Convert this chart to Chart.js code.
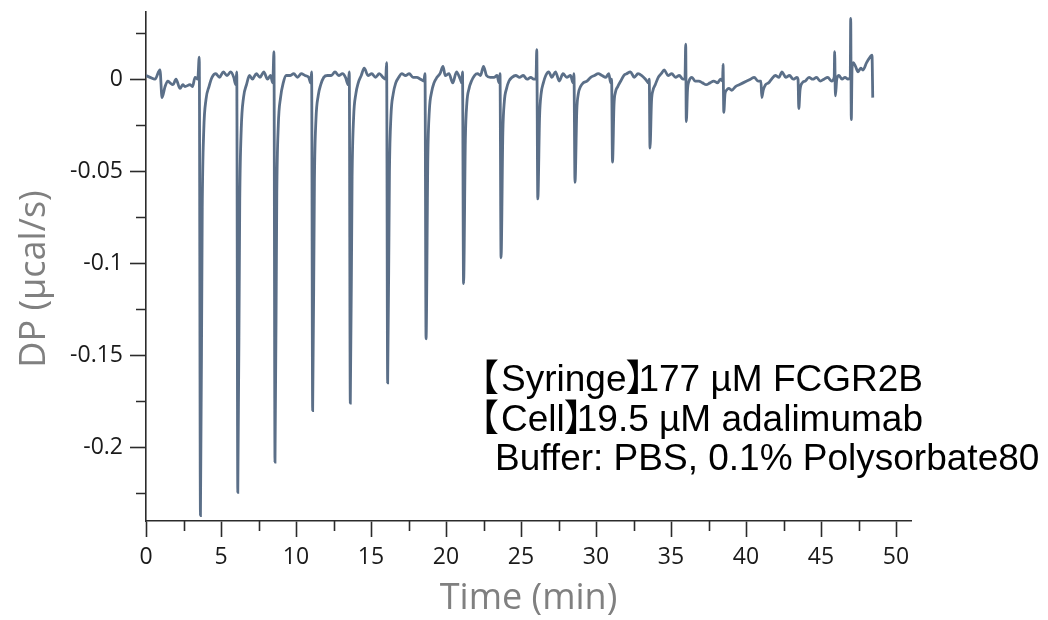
<!DOCTYPE html>
<html>
<head>
<meta charset="utf-8">
<script src="https://cdn.jsdelivr.net/npm/chart.js@4"></script>
<style>
  html, body { margin: 0; padding: 0; background: #fff; }
  #wrap { width: 1048px; height: 620px; }
</style>
</head>
<body>
<div id="wrap"><canvas id="itc"></canvas></div>
<script>
// ITC thermogram, [time (min), DP (µcal/s)]
const preRun = [
    [0.00, 0.002], [0.27, 0.001], [0.60, 0.000], [0.93, 0.005], [1.07, -0.010], [1.27, -0.004],
    [1.45, -0.001], [1.60, -0.002], [1.80, -0.003], [2.00, 0.000], [2.27, -0.005], [2.45, -0.003],
    [2.60, -0.004], [2.93, -0.003], [3.10, -0.004], [3.27, 0.001], [3.45, 0.000]
];
const injections = [
    [[3.55, 0.012], [3.63, -0.237], [3.75, -0.070], [3.85, -0.028], [4.00, -0.011], [4.20, -0.004], [4.40, 0.001], [4.65, 0.003], [4.90, 0.001], [5.15, 0.004], [5.40, 0.002], [5.65, 0.004], [5.85, 0.001], [5.98, -0.003]],
    [[6.05, 0.004], [6.12, -0.2245], [6.25, -0.066], [6.35, -0.027], [6.50, -0.010], [6.70, -0.003], [6.90, 0.002], [7.10, 0.000], [7.35, 0.003], [7.60, 0.001], [7.85, 0.004], [8.10, 0.000], [8.30, 0.002], [8.45, -0.002]],
    [[8.53, 0.015], [8.60, -0.208], [8.72, -0.062], [8.82, -0.025], [8.97, -0.010], [9.15, -0.002], [9.35, 0.002], [9.60, 0.002], [9.85, 0.003], [10.10, 0.001], [10.35, 0.003], [10.60, 0.002], [10.85, 0.001], [10.98, -0.002]],
    [[11.04, 0.004], [11.11, -0.180], [11.23, -0.054], [11.33, -0.022], [11.48, -0.009], [11.65, -0.003], [11.85, 0.001], [12.10, 0.002], [12.35, 0.002], [12.60, 0.004], [12.85, 0.002], [13.10, 0.003], [13.30, 0.001], [13.48, -0.003]],
    [[13.55, 0.004], [13.62, -0.176], [13.74, -0.053], [13.84, -0.021], [13.99, -0.008], [14.15, -0.002], [14.35, 0.002], [14.55, 0.006], [14.80, 0.002], [15.05, 0.003], [15.30, 0.001], [15.55, 0.003], [15.80, 0.001], [15.98, 0.000]],
    [[16.04, 0.009], [16.11, -0.165], [16.23, -0.050], [16.33, -0.020], [16.48, -0.008], [16.65, -0.002], [16.85, 0.001], [17.05, 0.003], [17.30, 0.002], [17.55, 0.003], [17.80, 0.001], [18.05, 0.001], [18.30, 0.000], [18.52, -0.001]],
    [[18.60, 0.003], [18.67, -0.141], [18.79, -0.042], [18.89, -0.017], [19.04, -0.007], [19.20, -0.002], [19.40, 0.001], [19.60, 0.003], [19.80, 0.007], [19.95, 0.002], [20.20, 0.003], [20.45, -0.002], [20.70, 0.004], [20.95, 0.000], [21.05, -0.002]],
    [[21.10, 0.004], [21.17, -0.111], [21.29, -0.033], [21.39, -0.013], [21.54, -0.005], [21.70, -0.001], [21.90, 0.002], [22.10, 0.003], [22.30, 0.002], [22.50, 0.007], [22.70, 0.002], [22.95, 0.001], [23.20, 0.001], [23.40, 0.002], [23.54, -0.002]],
    [[23.60, 0.003], [23.67, -0.097], [23.79, -0.029], [23.89, -0.012], [24.04, -0.005], [24.20, -0.001], [24.40, 0.001], [24.65, 0.002], [24.90, 0.001], [25.15, 0.002], [25.40, 0.000], [25.65, 0.001], [25.85, 0.000], [26.00, 0.000]],
    [[26.05, 0.016], [26.12, -0.065], [26.24, -0.020], [26.34, -0.008], [26.49, -0.002], [26.65, 0.002], [26.85, 0.004], [27.05, 0.001], [27.30, 0.004], [27.55, -0.001], [27.80, 0.003], [28.05, 0.001], [28.30, 0.002], [28.47, -0.002]],
    [[28.53, 0.003], [28.60, -0.056], [28.72, -0.017], [28.82, -0.008], [28.97, -0.004], [29.15, -0.002], [29.40, -0.001], [29.65, 0.001], [29.90, 0.002], [30.15, 0.003], [30.40, 0.002], [30.65, 0.001], [30.85, 0.003], [30.98, -0.002]],
    [[31.04, 0.000], [31.10, -0.045], [31.20, -0.014], [31.30, -0.007], [31.45, -0.004], [31.65, -0.001], [31.85, 0.002], [32.05, 0.003], [32.30, 0.004], [32.55, 0.001], [32.80, 0.003], [33.05, 0.002], [33.30, 0.000], [33.50, -0.002]],
    [[33.55, 0.000], [33.60, -0.0375], [33.70, -0.012], [33.80, -0.006], [33.95, -0.003], [34.15, 0.001], [34.35, 0.003], [34.55, 0.005], [34.80, 0.002], [35.05, 0.003], [35.30, 0.001], [35.55, 0.002], [35.80, 0.000], [35.93, 0.000]],
    [[35.98, 0.019], [36.02, -0.023], [36.10, -0.006], [36.20, -0.001], [36.40, 0.001], [36.60, -0.001], [36.85, -0.001], [37.10, -0.002], [37.35, -0.003], [37.60, -0.002], [37.85, -0.001], [38.10, -0.002], [38.30, 0.000], [38.44, -0.001]],
    [[38.47, 0.008], [38.52, -0.018], [38.60, -0.008], [38.70, -0.006], [38.85, -0.005], [39.05, -0.006], [39.30, -0.004], [39.55, -0.003], [39.80, -0.002], [40.05, -0.001], [40.30, 0.000], [40.55, 0.001], [40.80, -0.001], [40.96, -0.001]],
    [[41.00, -0.001], [41.05, -0.010], [41.15, -0.006], [41.30, -0.003], [41.50, -0.002], [41.70, 0.000], [41.95, 0.002], [42.20, 0.001], [42.40, 0.004], [42.65, 0.001], [42.90, 0.002], [43.15, 0.000], [43.40, 0.001]],
    [[43.47, 0.000], [43.52, -0.016], [43.60, -0.006], [43.75, -0.002], [43.95, -0.001], [44.20, 0.001], [44.45, 0.000], [44.70, 0.001], [44.95, -0.001], [45.20, 0.000], [45.45, 0.001], [45.70, -0.001], [45.88, 0.001]],
    [[45.91, 0.015], [45.96, -0.009], [46.05, 0.000], [46.20, 0.002], [46.40, 0.000], [46.60, 0.001], [46.80, 0.000], [46.95, 0.001]],
    [[46.98, 0.033], [47.02, -0.022], [47.07, 0.006], [47.15, 0.009], [47.30, 0.007], [47.47, 0.004], [47.65, 0.006], [47.80, 0.005], [48.04, 0.009], [48.27, 0.012], [48.40, 0.013], [48.45, -0.010]]
];

const yLabelValues = [0, -0.05, -0.1, -0.15, -0.2];
const xLabelValues = [0, 5, 10, 15, 20, 25, 30, 35, 40, 45, 50];
const yTitle = 'DP (µcal/s)';
const xTitle = 'Time (min)';
const annotationLines = [
    '【Syringe】177 µM FCGR2B',
    '【Cell】19.5 µM adalimumab',
    ' Buffer: PBS, 0.1% Polysorbate80'
];

const AXIS_COLOR = '#2b2b2b';
const MINOR_LEN = 10;

const points = preRun.concat(...injections).map(p => ({x: p[0], y: p[1]}));

const isLabel = (list, v) => list.some(l => Math.abs(l - v) < 1e-6);

// draws a line of text, packing the CJK lenticular brackets tight
function drawPacked(ctx, text, x, y) {
    let cx = x;
    text.split(/(【|】)/).filter(s => s.length).forEach(part => {
        const m = ctx.measureText(part);
        if (part === '【' || part === '】') {
            const gapAfter = part === '【' ? 3 : 0;
            ctx.fillText(part, cx + m.actualBoundingBoxLeft, y);
            cx += m.actualBoundingBoxLeft + m.actualBoundingBoxRight + gapAfter;
        } else {
            ctx.fillText(part, cx, y);
            cx += m.width;
        }
    });
}

// minor tick marks (shorter than the labelled ones)
const minorTicks = {
    id: 'minorTicks',
    afterDraw(chart) {
        const ctx = chart.ctx;
        const xs = chart.scales.x, ys = chart.scales.y;
        ctx.save();
        ctx.strokeStyle = AXIS_COLOR;
        ctx.lineWidth = 1.6;
        ctx.beginPath();
        xs.ticks.forEach(t => {
            if (isLabel(xLabelValues, t.value)) return;
            const px = Math.round(xs.getPixelForValue(t.value)) + 0.5;
            ctx.moveTo(px, xs.top);
            ctx.lineTo(px, xs.top + MINOR_LEN);
        });
        ys.ticks.forEach(t => {
            if (isLabel(yLabelValues, t.value)) return;
            const py = Math.round(ys.getPixelForValue(t.value)) + 0.5;
            ctx.moveTo(ys.right, py);
            ctx.lineTo(ys.right - MINOR_LEN, py);
        });
        ctx.stroke();
        ctx.restore();
    }
};

// y title and the text box over the plot area
const annotation = {
    id: 'annotation',
    afterDraw(chart) {
        const ctx = chart.ctx;
        ctx.save();
        ctx.fillStyle = '#808080';
        ctx.font = '36px "Open Sans", "Noto Sans", sans-serif';
        ctx.textAlign = 'center';
        ctx.textBaseline = 'middle';
        ctx.translate(35, 279);
        ctx.rotate(-Math.PI / 2);
        ctx.fillText(yTitle, 0, 0);
        ctx.restore();

        ctx.save();
        ctx.fillStyle = '#000';
        ctx.font = '37px "Liberation Sans", Arial, "Noto Sans CJK JP", sans-serif';
        ctx.textBaseline = 'alphabetic';
        drawPacked(ctx, annotationLines[0], 486, 391);
        drawPacked(ctx, annotationLines[1], 486, 431);
        const lead = ctx.measureText(' ').width;
        ctx.fillText(annotationLines[2], 495 - lead, 470);
        ctx.restore();
    }
};

Chart.defaults.font.family = '"Open Sans", "Noto Sans", sans-serif';
Chart.defaults.color = '#1a1a1a';

new Chart(document.getElementById('itc'), {
    type: 'line',
    data: {
        datasets: [{
            data: points,
            borderColor: '#5b6f88',
            borderWidth: 2.8,
            pointRadius: 0,
            cubicInterpolationMode: 'monotone',
            fill: false
        }]
    },
    options: {
        responsive: true,
        maintainAspectRatio: false,
        animation: false,
        layout: {padding: {top: 12, right: 137, left: 0, bottom: 0}},
        plugins: {legend: {display: false}, tooltip: {enabled: false}},
        scales: {
            x: {
                type: 'linear',
                min: 0,
                max: 51,
                afterFit: (scale) => {
                    scale.height = 99;
                    scale.paddingLeft = 0;
                    scale.paddingRight = 0;
                },
                border: {color: AXIS_COLOR, width: 1.6},
                grid: {
                    drawOnChartArea: false,
                    drawTicks: true,
                    tickLength: 16,
                    tickWidth: 1.6,
                    tickColor: (c) => c.tick && isLabel(xLabelValues, c.tick.value) ? AXIS_COLOR : 'rgba(0,0,0,0)'
                },
                ticks: {
                    stepSize: 2.5,
                    includeBounds: false,
                    maxRotation: 0,
                    autoSkip: false,
                    padding: 7,
                    font: {size: 23},
                    callback: (v) => isLabel(xLabelValues, v) ? String(v) : ''
                },
                title: {
                    display: true,
                    text: xTitle,
                    color: '#808080',
                    font: {size: 36},
                    padding: {top: 0, bottom: 0}
                }
            },
            y: {
                min: -0.24,
                max: 0.0365,
                afterFit: (scale) => {
                    scale.width = 146;
                    scale.paddingTop = 0;
                    scale.paddingBottom = 0;
                },
                border: {color: AXIS_COLOR, width: 1.6},
                grid: {
                    drawOnChartArea: false,
                    drawTicks: true,
                    tickLength: 16,
                    tickWidth: 1.6,
                    tickColor: (c) => c.tick && isLabel(yLabelValues, c.tick.value) ? AXIS_COLOR : 'rgba(0,0,0,0)'
                },
                ticks: {
                    stepSize: 0.025,
                    includeBounds: false,
                    autoSkip: false,
                    padding: 7,
                    font: {size: 23},
                    callback: (v) => isLabel(yLabelValues, v) ? String(Math.round(v * 1000) / 1000) : ''
                }
            }
        }
    },
    plugins: [minorTicks, annotation]
});
</script>
</body>
</html>
